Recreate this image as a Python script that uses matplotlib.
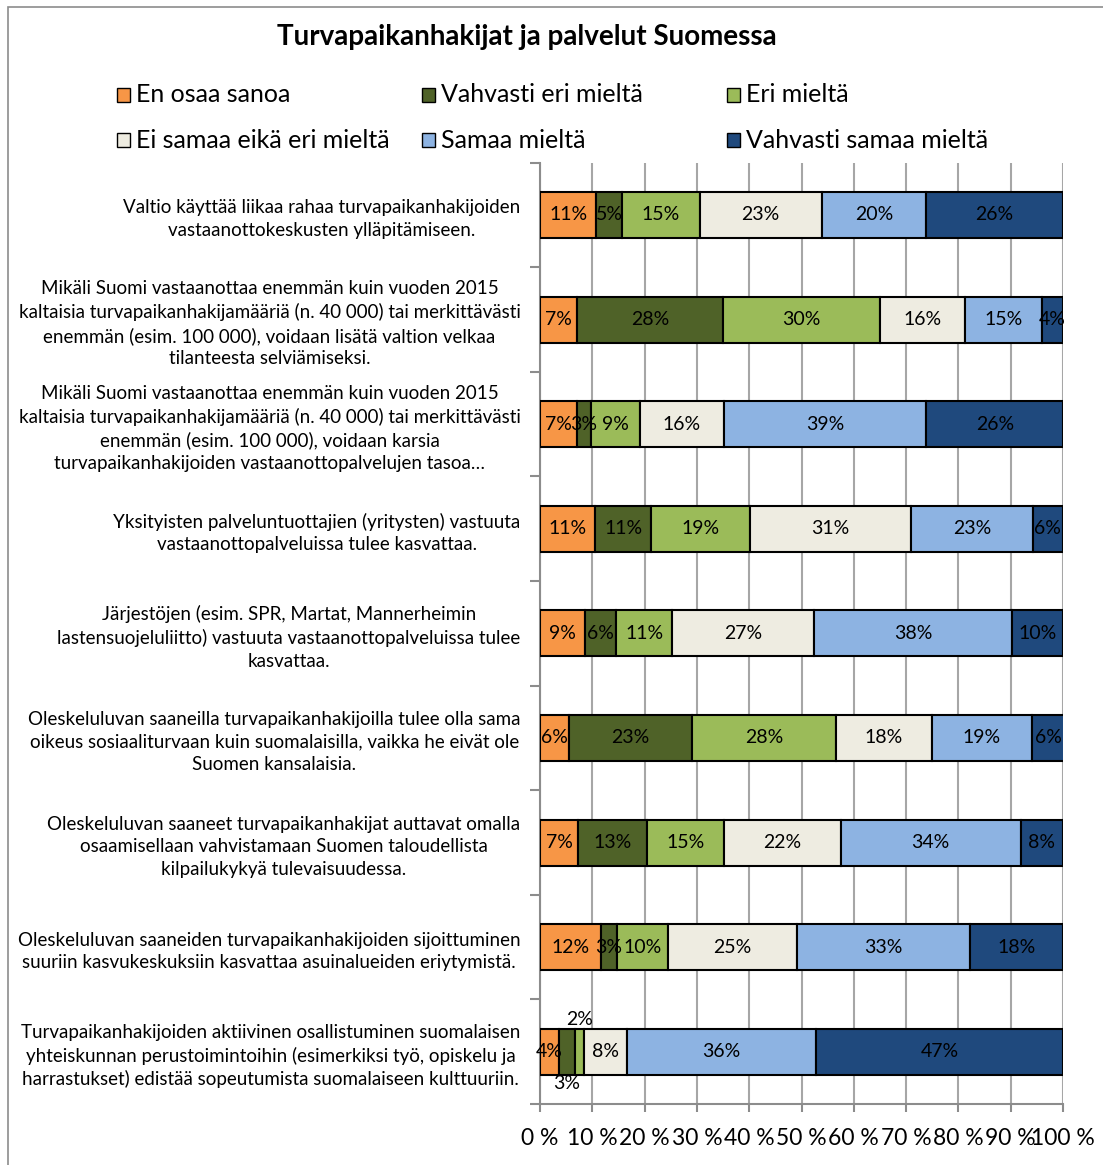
import numpy as np
import matplotlib
matplotlib.use("Agg")
import matplotlib.pyplot as plt
from matplotlib.patches import Rectangle

plt.rcParams["font.family"] = ["Lato", "DejaVu Sans"]

TITLE = "Turvapaikanhakijat ja palvelut Suomessa"
SERIES = ["En osaa sanoa", "Vahvasti eri mieltä", "Eri mieltä",
          "Ei samaa eikä eri mieltä", "Samaa mieltä", "Vahvasti samaa mieltä"]
COLORS = ["#F79646", "#4F6228", "#9BBB59", "#EEECE1", "#8DB3E2", "#1F497D"]

STATEMENTS = [
    "Valtio käyttää liikaa rahaa turvapaikanhakijoiden\nvastaanottokeskusten ylläpitämiseen.",
    "Mikäli Suomi vastaanottaa enemmän kuin vuoden 2015\nkaltaisia turvapaikanhakijamääriä (n. 40 000) tai merkittävästi\n"
    "enemmän (esim. 100 000), voidaan lisätä valtion velkaa\ntilanteesta selviämiseksi.",
    "Mikäli Suomi vastaanottaa enemmän kuin vuoden 2015\nkaltaisia turvapaikanhakijamääriä (n. 40 000) tai merkittävästi\n"
    "enemmän (esim. 100 000), voidaan karsia\nturvapaikanhakijoiden vastaanottopalvelujen tasoa…",
    "Yksityisten palveluntuottajien (yritysten) vastuuta\nvastaanottopalveluissa tulee kasvattaa.",
    "Järjestöjen (esim. SPR, Martat, Mannerheimin\nlastensuojeluliitto) vastuuta vastaanottopalveluissa tulee\nkasvattaa.",
    "Oleskeluluvan saaneilla turvapaikanhakijoilla tulee olla sama\noikeus sosiaaliturvaan kuin suomalaisilla, vaikka he eivät ole\nSuomen kansalaisia.",
    "Oleskeluluvan saaneet turvapaikanhakijat auttavat omalla\nosaamisellaan vahvistamaan Suomen taloudellista\nkilpailukykyä tulevaisuudessa.",
    "Oleskeluluvan saaneiden turvapaikanhakijoiden sijoittuminen\nsuuriin kasvukeskuksiin kasvattaa asuinalueiden eriytymistä.",
    "Turvapaikanhakijoiden aktiivinen osallistuminen suomalaisen\nyhteiskunnan perustoimintoihin (esimerkiksi työ, opiskelu ja\n"
    "harrastukset) edistää sopeutumista suomalaiseen kulttuuriin.",
]

# shares (%) per statement, one list per answer option
en_osaa = [10.8, 7.1, 7.1, 10.6, 8.6, 5.6, 7.3, 11.6, 3.6]
vahv_eri = [4.9, 27.8, 2.6, 10.6, 6.0, 23.4, 13.2, 3.2, 3.0]
eri = [14.8, 30.2, 9.4, 18.9, 10.6, 27.6, 14.6, 9.7, 1.8]
ei_samaa = [23.4, 16.2, 16.0, 30.9, 27.2, 18.3, 22.4, 24.6, 8.3]
samaa = [19.9, 14.7, 38.8, 23.2, 37.9, 19.1, 34.4, 33.1, 36.1]
vahv_samaa = [26.2, 4.0, 26.1, 5.8, 9.7, 6.3, 8.1, 17.8, 47.2]

XTICKS = list(range(0, 101, 10))
XTICKLABELS = [f"{t} %" for t in XTICKS]

W, H = 1103, 1165
fig = plt.figure(figsize=(W / 100, H / 100), dpi=100)

# outer chart border (right/bottom edges fall outside the image)
fig.add_artist(Rectangle((8 / W, -0.1), 1.2, (H - 7) / H + 0.1, transform=fig.transFigure,
                         fill=False, edgecolor="#8c8c8c", lw=1.2))

fig.text(527 / W, 1 - 37 / H, TITLE, ha="center", va="center",
         fontsize=20, fontweight="bold")

# legend drawn by hand, three evenly spaced columns
leg_x = [117, 422, 727]
leg_y = [95, 140]
for i, (name, col) in enumerate(zip(SERIES, COLORS)):
    cx = leg_x[i % 3]
    cy = leg_y[i // 3]
    fig.add_artist(Rectangle((cx / W, 1 - (cy + 7) / H), 13 / W, 14 / H,
                             transform=fig.transFigure, facecolor=col,
                             edgecolor="black", lw=1.0))
    fig.text((cx + 19) / W, 1 - cy / H, name, ha="left", va="center", fontsize=18)

ax = fig.add_axes([540 / W, 1 - 1104 / H, 523 / W, (1104 - 162.7) / H])

data = np.array([en_osaa, vahv_eri, eri, ei_samaa, samaa, vahv_samaa])
y = np.arange(len(STATEMENTS))
left = np.zeros(len(STATEMENTS))
for k in range(len(SERIES)):
    ax.barh(y, data[k], left=left, height=0.44, color=COLORS[k],
            edgecolor="black", lw=1.5, zorder=3)
    for j in range(len(STATEMENTS)):
        v = data[k, j]
        cx = left[j] + v / 2
        cy = y[j]
        if j == 8 and k == 1:
            cy = y[j] + 0.30
        elif j == 8 and k == 2:
            cy = y[j] - 0.31
        ax.text(cx, cy, f"{v:.0f}%", ha="center", va="center",
                fontsize=14, color="black", zorder=4)
    left += data[k]

ax.set_xlim(0, 100)
ax.set_ylim(len(STATEMENTS) - 0.5, -0.5)
ax.set_xticks(XTICKS)
ax.set_xticklabels(XTICKLABELS, fontsize=16.5)
ax.tick_params(axis="x", direction="out", length=6, width=1.5, color="#8c8c8c", pad=11)
ax.set_yticks(y)
ax.set_yticklabels(STATEMENTS, fontsize=13.5, multialignment="center", linespacing=1.38)
ax.set_yticks(np.arange(len(STATEMENTS) + 1) - 0.5, minor=True)
ax.tick_params(axis="y", which="major", length=0, pad=14)
ax.tick_params(axis="y", which="minor", direction="out", length=7, width=1.5, color="#8c8c8c")
ax.grid(axis="x", color="#a6a6a6", lw=1.5, zorder=0)
for s in ["top", "right"]:
    ax.spines[s].set_visible(False)
for s in ["left", "bottom"]:
    ax.spines[s].set_color("#8c8c8c")
    ax.spines[s].set_linewidth(1.5)

fig.savefig("out.png", dpi=100)
